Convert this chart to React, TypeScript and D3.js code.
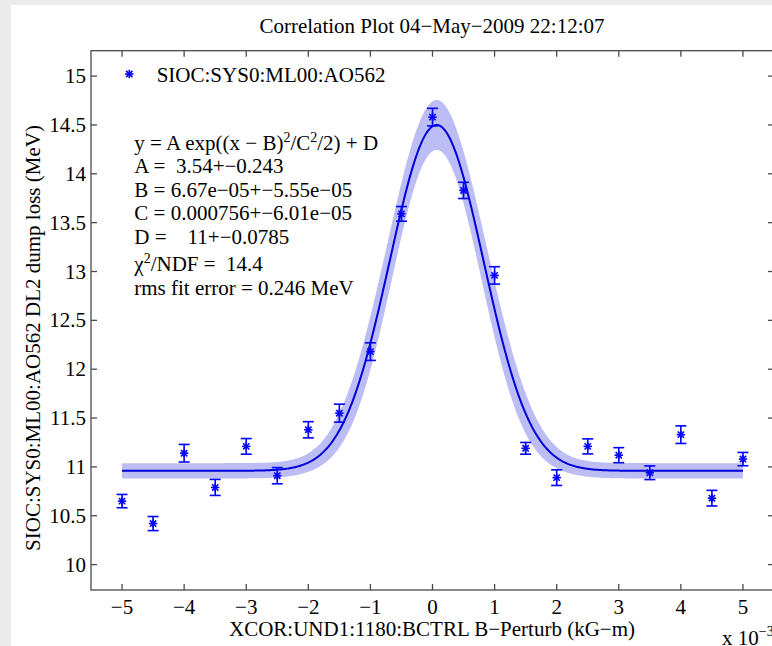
import React from 'react';
import * as d3 from 'd3';

// Data (x in units of 1e-3 kG-m)
const xValues = [-5, -4.5, -4, -3.5, -3, -2.5, -2, -1.5, -1, -0.5, 0, 0.5, 1, 1.5, 2, 2.5, 3, 3.5, 4, 4.5, 5];
const yValues = [10.65, 10.42, 11.14, 10.79, 11.21, 10.91, 11.38, 11.55, 12.18, 13.59, 14.58, 13.83, 12.96, 11.19, 10.89, 11.21, 11.12, 10.94, 11.33, 10.68, 11.08];
const yErrors = [0.068, 0.072, 0.09, 0.082, 0.08, 0.083, 0.083, 0.092, 0.09, 0.075, 0.09, 0.083, 0.089, 0.06, 0.08, 0.077, 0.077, 0.07, 0.09, 0.08, 0.068];

// Fit parameters shown on the chart (B, C in units of 1e-3)
const fitA = 3.54, fitAerr = 0.243;
const fitB = 0.0667, fitBerr = 0.0555;
const fitC = 0.756, fitCerr = 0.0601;
const fitD = 10.96, fitDerr = 0.0785;

const xTicks = [-5, -4, -3, -2, -1, 0, 1, 2, 3, 4, 5];
const yTicks = [10, 10.5, 11, 11.5, 12, 12.5, 13, 13.5, 14, 14.5, 15];

const titleText = 'Correlation Plot 04\u2212May\u22122009 22:12:07';
const xLabel = 'XCOR:UND1:1180:BCTRL B\u2212Perturb (kG\u2212m)';
const yLabel = 'SIOC:SYS0:ML00:AO562 DL2 dump loss (MeV)';
const legendLabel = 'SIOC:SYS0:ML00:AO562';

const W = 772, H = 646;
const L = 91, R = 774, T = 50.7, B = 590;
const FS = 21;
const tStyle: React.CSSProperties = { fontFamily: 'Liberation Serif', whiteSpace: 'pre' };

export default function App() {
  const x = d3.scaleLinear().domain([-5.5, 5.5]).range([L, R]);
  const y = d3.scaleLinear().domain([9.74, 15.26]).range([B, T]);

  const fitX = d3.range(-5, 5.0001, 0.02);
  const g = (v: number) => Math.exp(-((v - fitB) ** 2) / (fitC * fitC) / 2);
  const f = (v: number) => fitA * g(v) + fitD;
  const err = (v: number) => {
    const gv = g(v);
    const dA = gv * fitAerr;
    const dB = fitA * gv * (v - fitB) / (fitC * fitC) * fitBerr;
    const dC = fitA * gv * (v - fitB) ** 2 / (fitC ** 3) * fitCerr;
    return Math.sqrt(fitDerr ** 2 + dA * dA + dB * dB + dC * dC);
  };
  const band = d3.area<number>()
    .x(d => x(d))
    .y0(d => y(f(d) - err(d)))
    .y1(d => y(f(d) + err(d)))(fitX) || '';
  const line = d3.line<number>().x(d => x(d)).y(d => y(f(d)))(fitX) || '';

  const blue = '#0000ff';
  const axisColor = '#4a4a4a';
  const tk = 6;
  const ms = 4.2;

  const star = (cx: number, cy: number, key: string) => (
    <g key={key} stroke={blue} strokeWidth={1.6}>
      <line x1={cx - ms} y1={cy} x2={cx + ms} y2={cy} />
      <line x1={cx} y1={cy - ms} x2={cx} y2={cy + ms} />
      <line x1={cx - ms * 0.75} y1={cy - ms * 0.75} x2={cx + ms * 0.75} y2={cy + ms * 0.75} />
      <line x1={cx - ms * 0.75} y1={cy + ms * 0.75} x2={cx + ms * 0.75} y2={cy - ms * 0.75} />
    </g>
  );

  const textLines: { y: number; content: React.ReactNode }[] = [
    { y: 150, content: <>y = A exp((x {'\u2212'} B)<tspan dy={-8} fontSize={14}>2</tspan><tspan dy={8}>/C</tspan><tspan dy={-8} fontSize={14}>2</tspan><tspan dy={8}>/2) + D</tspan></> },
    { y: 173, content: <>A =  3.54+{'\u2212'}0.243</> },
    { y: 197, content: <>B = 6.67e{'\u2212'}05+{'\u2212'}5.55e{'\u2212'}05</> },
    { y: 220, content: <>C = 0.000756+{'\u2212'}6.01e{'\u2212'}05</> },
    { y: 244, content: <>D =    11+{'\u2212'}0.0785</> },
    { y: 271, content: <>{'\u03c7'}<tspan dy={-8} fontSize={14}>2</tspan><tspan dy={8}>/NDF =  14.4</tspan></> },
    { y: 295, content: <>rms fit error = 0.246 MeV</> },
  ];

  return (
    <svg width={W} height={H} style={{ position: 'absolute', left: 0, top: 0, display: 'block' }}>
      <rect x={0} y={0} width={W} height={H} fill="#ebebeb" />
      <rect x={11} y={5} width={W - 11} height={H - 5} fill="#ffffff" />

      <text x={432} y={33} fontSize={FS} textAnchor="middle" fill="#000" style={tStyle}>{titleText}</text>

      {/* fit band and line */}
      <path d={band} fill="#bdbdf6" stroke="none" />
      <path d={line} fill="none" stroke="#0000d8" strokeWidth={2} />

      {/* error bars and markers */}
      {xValues.map((xv, i) => {
        const cx = x(xv);
        const y1 = y(yValues[i] - yErrors[i]);
        const y2 = y(yValues[i] + yErrors[i]);
        return (
          <g key={'e' + i} stroke={blue} strokeWidth={1.6}>
            <line x1={cx} y1={y1} x2={cx} y2={y2} />
            <line x1={cx - 5.5} y1={y1} x2={cx + 5.5} y2={y1} />
            <line x1={cx - 5.5} y1={y2} x2={cx + 5.5} y2={y2} />
          </g>
        );
      })}
      {xValues.map((xv, i) => star(x(xv), y(yValues[i]), 'm' + i))}

      {/* axes box */}
      <rect x={L} y={T} width={R - L} height={B - T} fill="none" stroke={axisColor} strokeWidth={1.3} />
      {xTicks.map(t => (
        <g key={'xt' + t} stroke={axisColor} strokeWidth={1.3}>
          <line x1={x(t)} y1={B} x2={x(t)} y2={B - tk} />
          <line x1={x(t)} y1={T} x2={x(t)} y2={T + tk} />
        </g>
      ))}
      {yTicks.map(t => (
        <g key={'yt' + t} stroke={axisColor} strokeWidth={1.3}>
          <line x1={L} y1={y(t)} x2={L + tk} y2={y(t)} />
          <line x1={R} y1={y(t)} x2={R - tk} y2={y(t)} />
        </g>
      ))}
      {xTicks.map(t => (
        <text key={'xl' + t} x={x(t)} y={614} fontSize={FS} textAnchor="middle" fill="#000" style={tStyle}>
          {t < 0 ? '\u2212' + Math.abs(t) : String(t)}
        </text>
      ))}
      {yTicks.map(t => (
        <text key={'yl' + t} x={86} y={y(t) + 7} fontSize={FS} textAnchor="end" fill="#000" style={tStyle}>{String(t)}</text>
      ))}

      <text x={432} y={636} fontSize={FS} textAnchor="middle" fill="#000" style={tStyle}>{xLabel}</text>
      <text x={722} y={645} fontSize={FS} fill="#000" style={tStyle}>x 10<tspan dy={-9} fontSize={14}>{'\u2212'}3</tspan></text>
      <text transform={`translate(40, 338) rotate(-90)`} fontSize={FS} textAnchor="middle" fill="#000" style={tStyle}>{yLabel}</text>

      {/* legend */}
      {star(129.3, 74, 'legend')}
      <text x={156.7} y={81.7} fontSize={FS} fill="#000" style={tStyle}>{legendLabel}</text>

      {/* fit text */}
      {textLines.map((l, i) => (
        <text key={'tl' + i} x={134.3} y={l.y} fontSize={FS} fill="#000" style={tStyle}>{l.content}</text>
      ))}
    </svg>
  );
}
